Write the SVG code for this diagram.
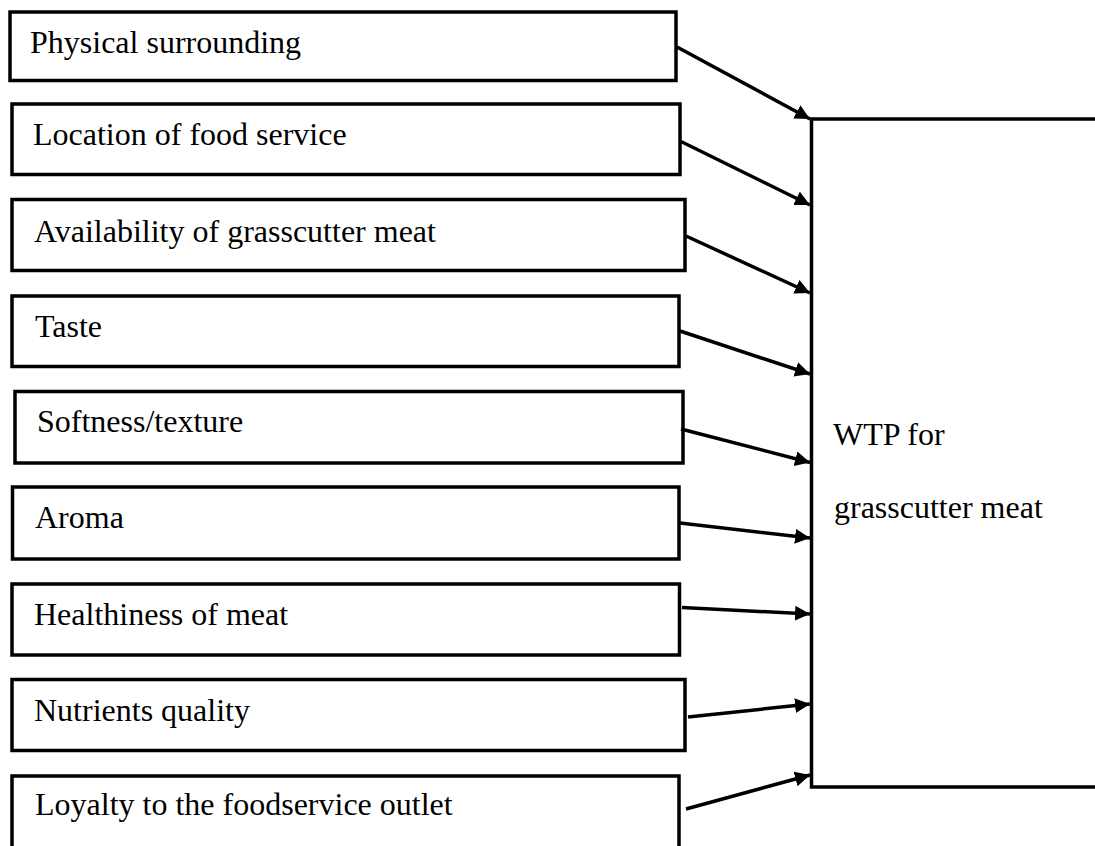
<svg xmlns="http://www.w3.org/2000/svg" width="1095" height="846" viewBox="0 0 1095 846">
<style>
.box{fill:#fff;stroke:#000;stroke-width:3.5}
.lbl{font-family:"Liberation Serif","Times New Roman",serif;font-size:32px;fill:#000}
.con{stroke:#000;stroke-width:3.5;fill:none;marker-end:url(#ah)}
</style>
<defs>
<marker id="ah" markerUnits="userSpaceOnUse" markerWidth="18" markerHeight="16" refX="15" refY="7.5" orient="auto">
<path d="M0,0 L15,7.5 L0,15 z" fill="#000"/>
</marker>
</defs>
<rect width="1095" height="846" fill="#fff"/>
<g id="n1"><rect class="box" x="10" y="12" width="666" height="68.5"/><text class="lbl" x="30" y="53">Physical surrounding</text></g>
<g id="n2"><rect class="box" x="12" y="104" width="668" height="70.5"/><text class="lbl" x="33" y="145">Location of food service</text></g>
<g id="n3"><rect class="box" x="12" y="199.5" width="673" height="71"/><text class="lbl" x="34" y="242">Availability of grasscutter meat</text></g>
<g id="n4"><rect class="box" x="12" y="296" width="667" height="70.5"/><text class="lbl" x="35" y="337">Taste</text></g>
<g id="n5"><rect class="box" x="15" y="391.5" width="668" height="71.5"/><text class="lbl" x="37" y="432">Softness/texture</text></g>
<g id="n6"><rect class="box" x="12.5" y="487" width="666.5" height="72"/><text class="lbl" x="35" y="528">Aroma</text></g>
<g id="n7"><rect class="box" x="12" y="584" width="667.5" height="71"/><text class="lbl" x="34" y="625">Healthiness of meat</text></g>
<g id="n8"><rect class="box" x="12" y="679.5" width="673" height="71"/><text class="lbl" x="34" y="721">Nutrients quality</text></g>
<g id="n9"><rect class="box" x="12" y="776" width="667" height="90"/><text class="lbl" x="35" y="815">Loyalty to the foodservice outlet</text></g>
<g id="wtp"><rect class="box" x="811.5" y="119" width="400" height="668"/><text class="lbl" x="833" y="445">WTP for</text><text class="lbl" x="834" y="518">grasscutter meat</text></g>
<g id="connectors">
<line class="con" x1="677" y1="47" x2="810" y2="119"/>
<line class="con" x1="681" y1="141.5" x2="810" y2="205"/>
<line class="con" x1="686" y1="236" x2="810" y2="293"/>
<line class="con" x1="680" y1="331" x2="810" y2="374"/>
<line class="con" x1="681" y1="429" x2="810" y2="462.5"/>
<line class="con" x1="680" y1="523" x2="810" y2="538"/>
<line class="con" x1="682" y1="607.5" x2="810" y2="614"/>
<line class="con" x1="688" y1="717" x2="810" y2="704"/>
<line class="con" x1="686" y1="809" x2="810" y2="775"/>
</g>
</svg>
